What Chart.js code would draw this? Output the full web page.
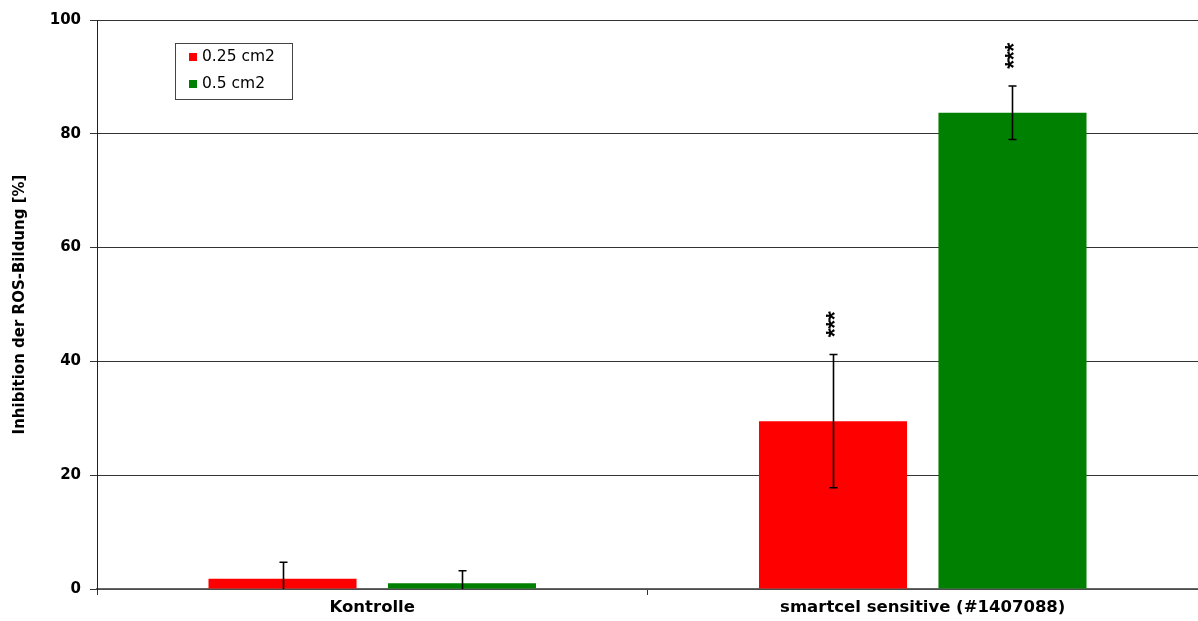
<!DOCTYPE html>
<html>
<head>
<meta charset="utf-8">
<script src="https://cdn.jsdelivr.net/npm/chart.js@4/dist/chart.umd.min.js"></script>
<style>
html,body{margin:0;padding:0;background:#fff;}
#wrap{width:1198px;height:621px;position:relative;}
</style>
</head>
<body>
<div id="wrap"><canvas id="c" width="1198" height="621"></canvas></div>
<script>
const categories = ["Kontrolle", "smartcel sensitive (#1407088)"];
const seriesLabels = ["0.25 cm2", "0.5 cm2"];
const values025 = [1.8, 29.5];
const values05 = [1.0, 83.7];
const err025 = [2.9, 11.7];
const err05 = [2.2, 4.7];
const signif025 = ["", "***"];
const signif05 = ["", "***"];
const yTicks = [0, 20, 40, 60, 80, 100];

const errors = [err025, err05];
const signif = [signif025, signif05];
const FONT = '"DejaVu Sans", "Liberation Sans", Arial, sans-serif';

const errorBarPlugin = {
  id: 'errorBars',
  afterDatasetsDraw(chart) {
    const ctx = chart.ctx;
    const y = chart.scales.y;
    const area = chart.chartArea;
    chart.data.datasets.forEach((ds, di) => {
      const meta = chart.getDatasetMeta(di);
      meta.data.forEach((bar, i) => {
        const v = ds.data[i];
        const e = errors[di][i];
        const yTop = y.getPixelForValue(v + e);
        let yBot = y.getPixelForValue(v - e);
        const clipped = yBot > area.bottom;
        if (clipped) yBot = area.bottom;
        const bx = Math.round(bar.x) + 0.5;
        ctx.save();
        ctx.strokeStyle = '#000';
        ctx.lineWidth = 1.6;
        ctx.beginPath();
        ctx.moveTo(bx, yTop);
        ctx.lineTo(bx, yBot);
        ctx.moveTo(bx - 4, yTop);
        ctx.lineTo(bx + 4, yTop);
        if (!clipped) {
          ctx.moveTo(bx - 4, yBot);
          ctx.lineTo(bx + 4, yBot);
        }
        ctx.stroke();
        const s = signif[di][i];
        if (s) {
          ctx.translate(bx + 3, yTop - 30);
          ctx.rotate(-Math.PI / 2);
          ctx.fillStyle = '#000';
          ctx.font = 'bold 23px "Liberation Sans", Arial, sans-serif';
          try { ctx.letterSpacing = '-0.5px'; } catch (err) {}
          ctx.textAlign = 'center';
          ctx.textBaseline = 'middle';
          ctx.fillText(s, 0, 0);
        }
        ctx.restore();
      });
    });
  }
};

const legendPlugin = {
  id: 'boxLegend',
  afterDraw(chart) {
    const ctx = chart.ctx;
    const x0 = 175, y0 = 43, w = 117, h = 56;
    ctx.save();
    ctx.fillStyle = '#fff';
    ctx.fillRect(x0, y0, w, h);
    ctx.strokeStyle = '#444';
    ctx.lineWidth = 1;
    ctx.strokeRect(x0 + 0.5, y0 + 0.5, w, h);
    ctx.font = '15.5px ' + FONT;
    ctx.textBaseline = 'middle';
    chart.data.datasets.forEach((ds, i) => {
      const cy = y0 + 14 + i * 27;
      ctx.fillStyle = ds.backgroundColor;
      ctx.fillRect(x0 + 14, cy - 4, 8, 8);
      ctx.fillStyle = '#000';
      ctx.fillText(ds.label, x0 + 27, cy);
    });
    ctx.restore();
  }
};

new Chart(document.getElementById('c'), {
  type: 'bar',
  data: {
    labels: categories,
    datasets: [
      { label: seriesLabels[0], data: values025, backgroundColor: '#ff0000', borderWidth: 0 },
      { label: seriesLabels[1], data: values05, backgroundColor: '#008000', borderWidth: 0 }
    ]
  },
  options: {
    responsive: false,
    animation: false,
    devicePixelRatio: 1,
    layout: { padding: { top: 20, right: 0, left: 0, bottom: 0 } },
    categoryPercentage: 0.652,
    barPercentage: 0.825,
    plugins: { legend: { display: false }, tooltip: { enabled: false } },
    scales: {
      x: {
        offset: true,
        afterFit(axis) { axis.height = 32; },
        grid: { offset: true, drawOnChartArea: false, drawTicks: true, tickLength: 6, color: '#333' },
        border: { display: true, color: '#666', width: 1.5 },
        ticks: {
          color: '#000',
          font: { family: FONT, size: 16.5, weight: 'bold' },
          padding: 3,
          maxRotation: 0
        }
      },
      y: {
        min: 0, max: 100,
        afterFit(axis) { axis.width = 97; },
        afterBuildTicks(axis) { axis.ticks = yTicks.map(v => ({ value: v })); },
        grid: { color: '#333', lineWidth: 1, tickLength: 7 },
        border: { display: true, color: '#222', width: 1 },
        ticks: {
          color: '#000',
          font: { family: FONT, size: 15, weight: 'bold' },
          padding: 9
        },
        title: {
          display: true,
          text: 'Inhibition der ROS-Bildung [%]',
          color: '#000',
          font: { family: FONT, size: 15, weight: 'bold' },
          padding: { top: 11, bottom: 0 }
        }
      }
    }
  },
  plugins: [errorBarPlugin, legendPlugin]
});
</script>
</body>
</html>
